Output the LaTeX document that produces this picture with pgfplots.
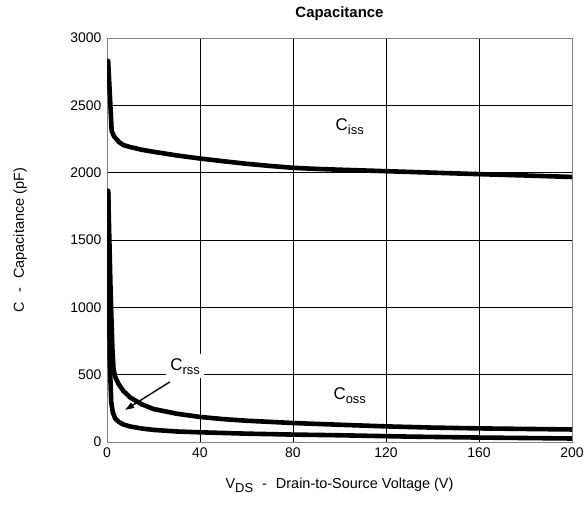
\documentclass[border=0pt]{standalone}
\usepackage{fontspec}
\setmainfont{Liberation Sans}
\usepackage{pgfplots}
\pgfplotsset{compat=1.18}
\usetikzlibrary{arrows.meta}
\newcommand{\sub}[2][13]{\raisebox{-4bp}{\fontsize{#1}{#1}\selectfont #2}}
\tikzset{curve/.style={black, mark=none, line width=4.6bp, line join=round, line cap=round}}
\begin{document}
\begin{tikzpicture}
\useasboundingbox (0,0) rectangle (587bp,523bp);
\begin{axis}[
  at={(107bp,81bp)}, anchor=south west, scale only axis,
  width=465bp, height=404bp,
  xmin=0, xmax=200, ymin=0, ymax=3000,
  xtick={0,40,...,200}, ytick={0,500,...,3000},
  grid=major, major grid style={black, line width=0.9bp},
  tick style={draw=none},
  axis line style={gray, line width=0.8bp},
  ticklabel style={font=\fontsize{14}{16}\selectfont},
  /pgf/number format/assume math mode=true,
  /pgf/number format/1000 sep={},
  xticklabel style={yshift=-2bp},
  yticklabel style={xshift=-2bp},
  title={Capacitance},
  title style={font=\bfseries\fontsize{15}{17}\selectfont, at={(axis description cs:0.5,1)}, anchor=center, yshift=18bp},
  xlabel={V\sub{DS}\hspace{9bp}-\hspace{9bp}Drain-to-Source Voltage (V)},
  xlabel style={font=\fontsize{14.5}{17}\selectfont, at={(axis description cs:0.5,-0.107)}, anchor=center},
  ylabel={C\hspace{9bp}-\hspace{9bp}Capacitance (pF)},
  ylabel style={font=\fontsize{14.5}{17}\selectfont, at={(axis description cs:-0.187,0.5)}, anchor=center},
]
\addplot[curve] coordinates {
(0.5,2830) (2,2310) (3,2270) (5,2230) (7,2205) (10,2190) (15,2170) (20,2155)
(30,2128) (40,2105) (50,2085) (60,2066) (70,2050) (80,2036) (90,2028) (100,2022)
(120,2011) (140,2000) (160,1989) (180,1979) (200,1968)};
\addplot[curve] coordinates {
(0.5,1865) (1.5,1150) (2.3,700) (2.8,540) (3.6,480) (5,430) (7,380) (10,330)
(15,280) (20,245) (30,210) (40,186) (50,170) (60,158) (80,141) (100,128)
(120,116) (140,107) (160,101) (180,97) (200,93)};
\addplot[curve] coordinates {
(0.5,1865) (0.8,1200) (1.2,600) (1.8,300) (2.5,220) (3.5,175) (5,150) (7,130)
(10,115) (15,100) (20,90) (30,78) (40,72) (60,62) (80,55) (100,50)
(130,40) (160,33) (200,26)};
\draw[-{Triangle[length=9bp,width=6bp]}, line width=1.4bp] (axis cs:27,446) -- (axis cs:7.8,238);
\node[fill=white, inner sep=4bp, font=\fontsize{17}{19}\selectfont] at (axis cs:33.6,562) {C\sub{rss}};
\node[font=\fontsize{17}{19}\selectfont] at (axis cs:104.4,2338) {C\sub{iss}};
\node[font=\fontsize{17}{19}\selectfont] at (axis cs:104.4,347) {C\sub{oss}};
\end{axis}
\end{tikzpicture}
\end{document}
